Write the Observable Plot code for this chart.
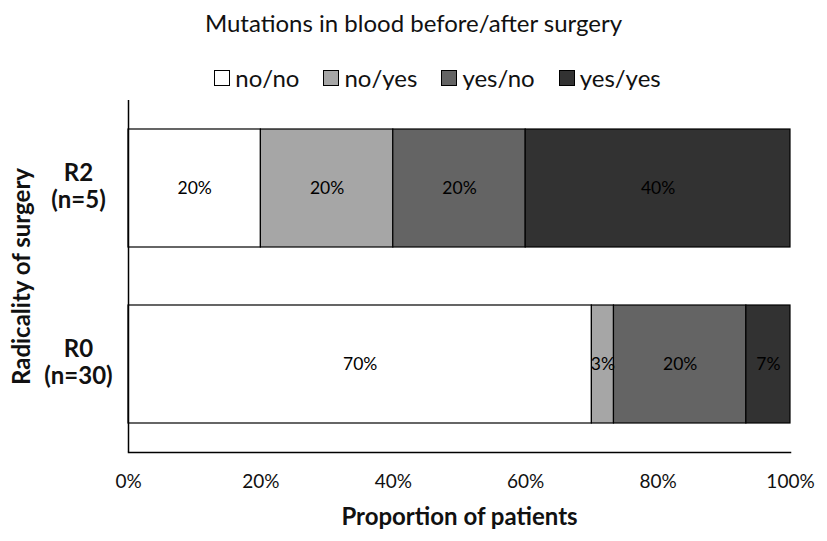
<!DOCTYPE html>
<html>
<head>
<meta charset="utf-8">
<script src="https://cdn.jsdelivr.net/npm/d3@7"></script>
<script src="https://cdn.jsdelivr.net/npm/@observablehq/plot@0.6"></script>
<style>
  body { margin: 0; background: #fff; font-family: Lato, "Open Sans", sans-serif; color: #111; }
  #wrap { width: 827px; height: 541px; position: relative; }
  #title { position: absolute; top: 8px; left: 0; width: 827px; text-align: center; font-size: 24px; }
  #legend { position: absolute; top: 63px; left: 24px; width: 827px; display: flex; justify-content: center; gap: 24px; font-size: 24px; }
  .item { display: flex; align-items: center; gap: 5px; }
  .sw { width: 16px; height: 16px; border: 1px solid #000; box-sizing: border-box; }
  #chart { position: absolute; top: 90px; left: 0; }
</style>
</head>
<body>
<div id="wrap">
  <div id="title"></div>
  <div id="legend"></div>
  <div id="chart"></div>
</div>
<script>
const titleText = "Mutations in blood before/after surgery";
const categories = ["R2", "R0"];
const sampleSizes = [5, 30];
const statuses = ["no/no", "no/yes", "yes/no", "yes/yes"];
const statusColors = ["#ffffff", "#a6a6a6", "#646464", "#323232"];
const r2Values = [0.20, 0.20, 0.20, 0.40];
const r0Values = [21/30, 1/30, 6/30, 2/30];
const xTicks = [0, 0.2, 0.4, 0.6, 0.8, 1.0];

const valuesByCat = {R2: r2Values, R0: r0Values};
const nByCat = Object.fromEntries(categories.map((c, i) => [c, sampleSizes[i]]));
const data = [];
for (const c of categories) statuses.forEach((s, i) => data.push({cat: c, status: s, value: valuesByCat[c][i]}));

document.getElementById("title").textContent = titleText;
const leg = document.getElementById("legend");
statuses.forEach((s, i) => {
  const it = document.createElement("div"); it.className = "item";
  const sw = document.createElement("div"); sw.className = "sw"; sw.style.background = statusColors[i];
  const t = document.createElement("span"); t.textContent = s;
  it.append(sw, t); leg.append(it);
});

const chart = Plot.plot({
  width: 827,
  height: 451,
  marginLeft: 128,
  marginRight: 37,
  marginTop: 10,
  marginBottom: 89,
  style: {fontFamily: "Lato, 'Open Sans', sans-serif", fontSize: "18px", color: "#111", background: "#fff"},
  x: {domain: [0, 1]},
  y: {domain: categories, paddingInner: 0.33, paddingOuter: 0.165},
  color: {domain: statuses, range: statusColors},
  marks: [
    Plot.barX(data, Plot.stackX({x: "value", y: "cat", fill: "status", order: statuses, stroke: "#000", strokeWidth: 1.2, inset: 0})),
    Plot.text(data, Plot.stackX({x: "value", y: "cat", z: "status", order: statuses, text: d => Math.round(d.value * 100) + "%", fontSize: 17.5, fill: "#000"})),
    Plot.ruleX([0], {stroke: "#000", strokeWidth: 1.5}),
    Plot.frame({anchor: "bottom", stroke: "#000", strokeWidth: 1.5}),
    Plot.axisX({ticks: xTicks, tickFormat: d => Math.round(d * 100) + "%", tickSize: 0, tickPadding: 22, fontSize: 19, label: "Proportion of patients", labelAnchor: "center", labelArrow: "none", labelOffset: 72}),
    Plot.axisY({tickSize: 0, tickPadding: 50, textAnchor: "middle", dy: -3, tickFormat: d => `${d}\n(n=${nByCat[d]})`, fontSize: 24, fontWeight: "bold", lineHeight: 1.15, label: "Radicality of surgery", labelAnchor: "center", labelArrow: "none", labelOffset: 116})
  ]
});
chart.querySelectorAll("[aria-label='x-axis label'], [aria-label='y-axis label']").forEach(el => {
  el.setAttribute("font-weight", "bold");
  el.setAttribute("font-size", "24px");
});
document.getElementById("chart").append(chart);
</script>
</body>
</html>
